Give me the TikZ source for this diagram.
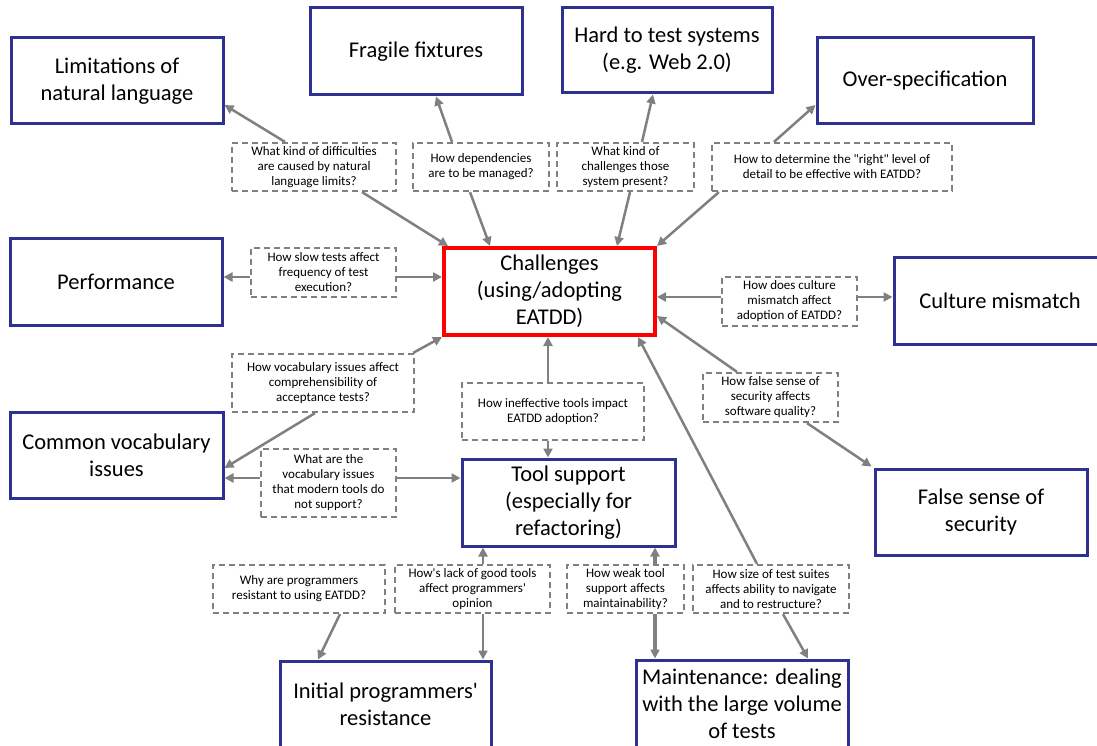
\documentclass[tikz,border=0pt]{standalone}
\usepackage{fontspec}
\setmainfont{Carlito}
\usetikzlibrary{arrows.meta,calc}
\pgfdeclarelayer{bg}
\pgfsetlayers{bg,main}
\definecolor{topicblue}{RGB}{46,49,146}
\definecolor{linkgray}{RGB}{128,128,128}
\definecolor{hubred}{RGB}{255,0,0}

\begin{document}
\begin{tikzpicture}[x=1pt,y=-1pt,
  topic/.style={draw=topicblue, line width=3pt, fill=white, align=center,
    inner sep=0pt, font=\fontsize{22.5}{27}\selectfont},
  hub/.style={topic, draw=hubred, line width=4pt},
  question/.style={draw=linkgray, dash pattern=on 6pt off 4pt, line width=2.2pt,
    fill=white, align=center, inner sep=0pt, font=\fontsize{13}{15}\selectfont},
  link/.style={draw=linkgray, line width=2.5pt, -{Triangle[length=9pt,width=9pt]}},
  heavylink/.style={link, line width=3.5pt},
]
\fill[white] (0,0) rectangle (1097,746);
\useasboundingbox (0,0) rectangle (1097,746);

% central topic
\node[hub, minimum width=211pt, minimum height=87pt] (chal) at (549.5,291.5)
  {Challenges\\(using/adopting\\EATDD)};

% challenge areas
\node[topic, minimum width=212pt, minimum height=86pt] (lim) at (117,81)
  {Limitations of\\natural language};
\node[topic, minimum width=212pt, minimum height=87pt] (frag) at (416,51.5)
  {Fragile fixtures};
\node[topic, minimum width=210pt, minimum height=85pt] (hard) at (667,50.5)
  {Hard to test systems\\(e.g. Web 2.0)};
\node[topic, minimum width=216pt, minimum height=86pt] (over) at (925,81)
  {Over-specification};
\node[topic, minimum width=212pt, minimum height=87pt] (perf) at (116,281.5)
  {Performance};
\node[topic, minimum width=212pt, minimum height=87pt] (cult) at (1000,300.5)
  {Culture mismatch};
\node[topic, minimum width=213pt, minimum height=86pt] (comm) at (116.5,455)
  {Common vocabulary\\issues};
\node[topic, minimum width=213pt, minimum height=87pt] (tool) at (568.5,502.5)
  {Tool support\\(especially for\\refactoring)};
\node[topic, minimum width=212pt, minimum height=86pt] (fals) at (981,512)
  {False sense of\\security};
\node[topic, minimum width=211pt, minimum height=87pt] (init) at (385.5,704.5)
  {Initial programmers\textquotesingle\\resistance};
\node[topic, minimum width=212pt, minimum height=87pt] (main) at (742,703.5)
  {Maintenance: dealing\\with the large volume\\of tests};

% research questions
\node[question, minimum width=164pt, minimum height=48pt] (q1) at (314,167)
  {What kind of difficulties\\are caused by natural\\language limits?};
\node[question, minimum width=136pt, minimum height=48pt] (q2) at (481,167)
  {How dependencies\\are to be managed?};
\node[question, minimum width=137pt, minimum height=48pt] (q3) at (625.5,167)
  {What kind of\\challenges those\\system present?};
\node[question, minimum width=240pt, minimum height=48pt] (q4) at (832,167)
  {How to determine the \textquotedbl right\textquotedbl\ level of\\detail to be effective with EATDD?};
\node[question, minimum width=145pt, minimum height=49pt] (q5) at (323.5,272.5)
  {How slow tests affect\\frequency of test\\execution?};
\node[question, minimum width=135pt, minimum height=49pt] (q6) at (789.5,301.5)
  {How does culture\\mismatch affect\\adoption of EATDD?};
\node[question, minimum width=182pt, minimum height=58pt] (q7) at (323,383)
  {How vocabulary issues affect\\comprehensibility of\\acceptance tests?};
\node[question, minimum width=182pt, minimum height=57pt] (q8) at (553,411.5)
  {How ineffective tools impact\\EATDD adoption?};
\node[question, minimum width=135pt, minimum height=49pt] (q9) at (770.5,397.5)
  {How false sense of\\security affects\\software quality?};
\node[question, minimum width=135pt, minimum height=68pt] (q10) at (328.5,483)
  {What are the\\vocabulary issues\\that modern tools do\\not support?};
\node[question, minimum width=172pt, minimum height=48pt] (q11) at (299,589)
  {Why are programmers\\resistant to using EATDD?};
\node[question, minimum width=155pt, minimum height=48pt] (q12) at (472.5,589)
  {How\textquotesingle s lack of good tools\\affect programmers\textquotesingle\\opinion};
\node[question, minimum width=117pt, minimum height=48pt] (q13) at (625.5,589)
  {How weak tool\\support affects\\maintainability?};
\node[question, minimum width=156pt, minimum height=48pt] (q14) at (771,589)
  {How size of test suites\\affects ability to navigate\\and to restructure?};

% the line from q11 runs behind q10
\begin{pgfonlayer}{bg}
  \draw[link] ($(q11.north)+(61,0)$) -- ($(chal.south west)+(19,0)$);
\end{pgfonlayer}

% connectors
\draw[link] ($(q1.north)+(-29,0)$) -- ($(lim.east)+(0,24)$);
\draw[link] ($(q1.south)+(48,0)$) -- ($(chal.north west)+(6,0)$);
\draw[link] ($(q2.north)+(-29,0)$) -- ($(frag.south)+(20,0)$);
\draw[link] ($(q2.south)+(-11,0)$) -- ($(chal.north)+(-59.5,0)$);
\draw[link] ($(q3.north)+(16.5,0)$) -- ($(hard.south)+(-14,0)$);
\draw[link] ($(q3.south)+(4.5,0)$) -- ($(chal.north)+(67.5,0)$);
\draw[link] ($(q4.north)+(-58,0)$) -- ($(over.west)+(0,24)$);
\draw[link] ($(q4.south west)+(8,0)$) -- (chal.north east);
\draw[link] ($(q5.west)+(0,4.5)$) -- ($(perf.east)+(0,-4.5)$);
\draw[link] ($(q5.east)+(0,4.5)$) -- ($(chal.west)+(0,-14.5)$);
\draw[link] ($(q6.west)+(0,-4.5)$) -- ($(chal.east)+(0,5.5)$);
\draw[link] ($(q6.east)+(0,-4.5)$) -- ($(cult.west)+(0,-3.5)$);
\draw[link] ($(q7.north east)+(-2,0)$) -- (chal.south west);
\draw[link] ($(q7.south)+(-8,0)$) -- ($(comm.east)+(0,13)$);
\draw[link] ($(q8.north)+(-5,0)$) -- ($(chal.south)+(-1.5,0)$);
\draw[link] ($(q8.south)+(-5,0)$) -- ($(tool.north)+(-20.5,0)$);
\draw[link] ($(q9.north)+(-33.5,0)$) -- ($(chal.east)+(0,24.5)$);
\draw[link] ($(q9.south)+(36.5,0)$) -- ($(fals.north west)+(-2,-1)$);
\draw[link] ($(q10.west)+(0,-5)$) -- ($(comm.east)+(0,23)$);
\draw[link] ($(q10.east)+(0,-5)$) -- ($(tool.west)+(0,-24.5)$);
\draw[link] ($(q11.south)+(41,0)$) -- ($(init.north)+(-67.5,0)$);
\draw[link] ($(q12.north)+(10.5,0)$) -- ($(tool.south)+(-85.5,0)$);
\draw[link] ($(q12.south)+(10.5,0)$) -- ($(init.north)+(97.5,0)$);
\draw[heavylink] ($(q13.north)+(29.5,0)$) -- ($(tool.south)+(86.5,0)$);
\draw[heavylink] ($(q13.south)+(29.5,0)$) -- ($(main.north)+(-87,0)$);
\draw[link] ($(q14.north)+(-14,0)$) -- ($(chal.south)+(88.5,0)$);
\draw[link] ($(q14.south)+(12,0)$) -- ($(main.north)+(66,0)$);
\end{tikzpicture}
\end{document}
